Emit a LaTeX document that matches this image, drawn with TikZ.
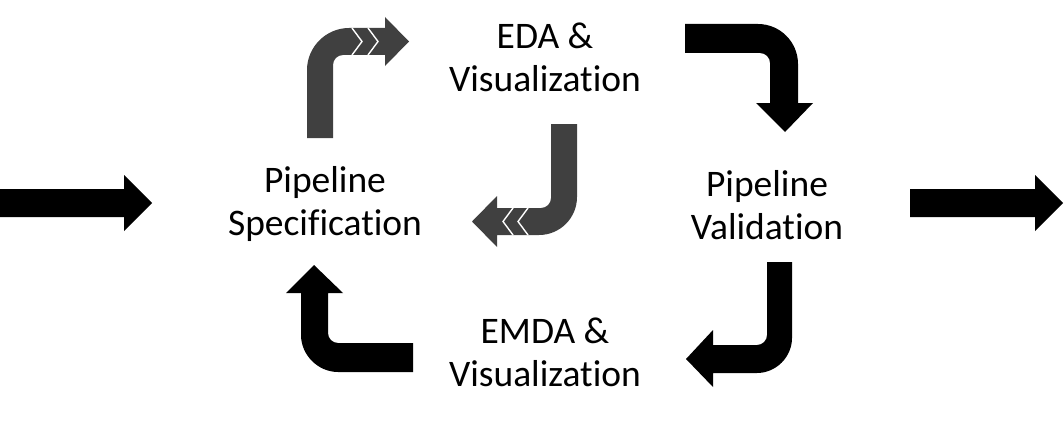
\documentclass[tikz,border=0pt]{standalone}
\usepackage{fontspec}
\setmainfont[Ligatures={NoCommon}]{Carlito}
\definecolor{darkgrey}{RGB}{64,64,64}
\begin{document}
\begin{tikzpicture}[x=1pt,y=-1pt,
  lbl/.style={align=center,font=\fontsize{37.5}{43}\selectfont,inner sep=0pt},
  blk/.style={fill=black,draw=none},
  gry/.style={fill=darkgrey,draw=none},
  chev/.style={draw=white,line width=1.4pt}]
\useasboundingbox (0,0) rectangle (1064,420);
% text
\node[lbl] (eda) at (545,57) {EDA \&\\Visualization};
\node[lbl] (spec) at (325,204) {Pipeline\\Specification};
\node[lbl] (val) at (767,205) {Pipeline\\Validation};
\node[lbl] (emda) at (545,352) {EMDA \&\\Visualization};
% straight arrows
\fill[blk] (0,189) -- (124,189) -- (124,175) -- (152,203) -- (124,231) -- (124,217) -- (0,217) -- cycle;
\fill[blk] (910,189) -- (1035,189) -- (1035,175) -- (1063,203) -- (1035,231) -- (1035,217) -- (910,217) -- cycle;
% top-left grey bent arrow
\fill[gry] (307,138) -- (307,70) .. controls (307,47) and (326,28) .. (349,28) -- (385,28) -- (385,17) -- (409,41.5) -- (385,66) -- (385,55) -- (343,55) .. controls (337.5,55) and (333,59.5) .. (333,65) -- (333,138) -- cycle;
\draw[chev] (352,28) -- (362,41.5) -- (352,55);
\draw[chev] (368,28) -- (378,41.5) -- (368,55);
% middle grey bent arrow
\fill[gry] (551,124) -- (577,124) -- (577,197) .. controls (577,218) and (560,235) .. (539,235) -- (497,235) -- (497,247) -- (472,221.5) -- (497,196) -- (497,208) -- (541,208) .. controls (546.5,208) and (551,203.5) .. (551,198) -- cycle;
\draw[chev] (513,208) -- (503,221.5) -- (513,235);
\draw[chev] (528,208) -- (518,221.5) -- (528,235);
% top-right black bent arrow
\fill[blk] (685,24) -- (758,24) .. controls (780,24) and (798,42) .. (798,64) -- (798,103) -- (813,103) -- (785,132) -- (756,103) -- (770,103) -- (770,63) .. controls (770,57.5) and (765.5,53) .. (760,53) -- (685,53) -- cycle;
% bottom-right black bent arrow
\fill[blk] (767,262) -- (792,262) -- (792,338) .. controls (792,357) and (776,373) .. (757,373) -- (713,373) -- (713,387) -- (686,359) -- (713,330) -- (713,345) -- (757,345) .. controls (762.5,345) and (767,340.5) .. (767,335) -- cycle;
% bottom-left black bent arrow
\fill[blk] (413,343) -- (413,372) -- (338,372) .. controls (318,372) and (301,355) .. (301,335) -- (301,293) -- (286,293) -- (314,265) -- (343,293) -- (328,293) -- (328,333) .. controls (328,338.5) and (332.5,343) .. (338,343) -- cycle;
\end{tikzpicture}
\end{document}
